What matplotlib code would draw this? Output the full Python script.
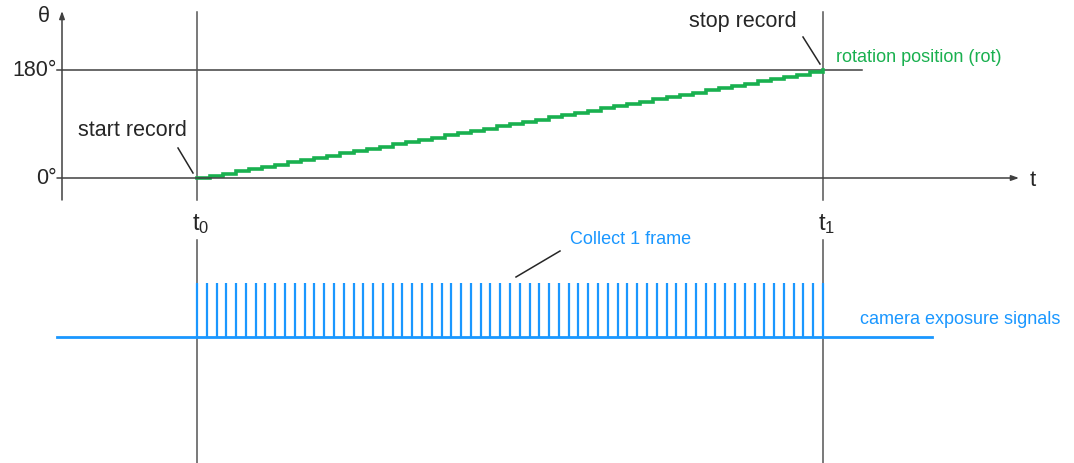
import matplotlib
matplotlib.use("Agg")
import matplotlib.pyplot as plt

plt.rcParams["font.family"] = ["Liberation Sans", "DejaVu Sans"]
plt.rcParams["mathtext.fontset"] = "custom"
plt.rcParams["mathtext.rm"] = "Liberation Sans"
plt.rcParams["mathtext.it"] = "Liberation Sans"

# ---- data -------------------------------------------------------------
# time in arbitrary units: recording runs from t0 = 0 to t1 = 192
t0, t1 = 0, 192
theta_min, theta_max = 0, 180

# stepwise stage rotation (time of each step, angle reached)
step_times = [0, 4, 8, 12, 16, 20, 24, 28, 32, 36, 40, 44, 48, 52, 56, 60,
              64, 68, 72, 76, 80, 84, 88, 92, 96, 100, 104, 108, 112, 116,
              120, 124, 128, 132, 136, 140, 144, 148, 152, 156, 160, 164,
              168, 172, 176, 180, 184, 188, 192]
step_angles = [0, 3.75, 7.5, 11.25, 15, 18.75, 22.5, 26.25, 30, 33.75, 37.5,
               41.25, 45, 48.75, 52.5, 56.25, 60, 63.75, 67.5, 71.25, 75,
               78.75, 82.5, 86.25, 90, 93.75, 97.5, 101.25, 105, 108.75,
               112.5, 116.25, 120, 123.75, 127.5, 131.25, 135, 138.75, 142.5,
               146.25, 150, 153.75, 157.5, 161.25, 165, 168.75, 172.5,
               176.25, 180]

# camera exposure pulses (one per collected frame)
frame_times = [0, 3, 6, 9, 12, 15, 18, 21, 24, 27, 30, 33, 36, 39, 42, 45,
               48, 51, 54, 57, 60, 63, 66, 69, 72, 75, 78, 81, 84, 87, 90, 93,
               96, 99, 102, 105, 108, 111, 114, 117, 120, 123, 126, 129, 132,
               135, 138, 141, 144, 147, 150, 153, 156, 159, 162, 165, 168,
               171, 174, 177, 180, 183, 186, 189, 192]
signal_low, signal_high = 0, 1

theta_ticks = [0, 180]
theta_tick_labels = ["0°", "180°"]
time_labels = [r"$\mathregular{t_0}$", r"$\mathregular{t_1}$"]

# ---- layout -----------------------------------------------------------
W, H = 1074, 463
fig = plt.figure(figsize=(W / 100, H / 100), dpi=100)
fig.patch.set_facecolor("white")

# horizontal scale: t0 -> x=197 px, t1 -> x=823 px
px_t0, px_t1 = 197, 823
sx = (px_t1 - px_t0) / (t1 - t0)
xlim = (t0 - px_t0 / sx, t0 + (W - px_t0) / sx)

# upper panel: 0 deg at y=178 px, 180 deg at y=70 px (from top)
py_0, py_180 = 178, 70
sy_top = (py_0 - py_180) / (theta_max - theta_min)
ylim_top = (theta_min - (H - py_0) / sy_top, theta_min + py_0 / sy_top)

# lower panel: low level at y=337 px, high level at y=283 px
py_low, py_high = 337, 283
sy_bot = (py_low - py_high) / (signal_high - signal_low)
ylim_bot = (signal_low - (H - py_low) / sy_bot, signal_low + py_low / sy_bot)

ax_top = fig.add_axes([0, 0, 1, 1])
ax_bot = fig.add_axes([0, 0, 1, 1])
for ax in (ax_top, ax_bot):
    ax.set_xlim(*xlim)
    ax.set_axis_off()
    ax.patch.set_alpha(0)
ax_top.set_ylim(*ylim_top)
ax_bot.set_ylim(*ylim_bot)


def top_xy(px, py):
    return t0 + (px - px_t0) / sx, theta_min + (py_0 - py) / sy_top


def bot_xy(px, py):
    return t0 + (px - px_t0) / sx, signal_low + (py_low - py) / sy_bot


axis_col = "#404040"
text_col = "#262626"
green = "#19b04f"
blue = "#1a97ff"
big = 15.5
small = 13

# axes of the angle plot
x0, y0 = top_xy(62, 200)
_, ytop = top_xy(62, 11)
ax_top.annotate("", xy=(x0, ytop), xytext=(x0, y0),
                arrowprops=dict(arrowstyle="-|>,head_length=0.45,head_width=0.16",
                                color=axis_col, lw=1.1, shrinkA=0, shrinkB=0))
xa, _ = top_xy(57, 0)
xb, _ = top_xy(1019, 0)
ax_top.annotate("", xy=(xb, theta_min), xytext=(xa, theta_min),
                arrowprops=dict(arrowstyle="-|>,head_length=0.45,head_width=0.16",
                                color=axis_col, lw=1.1, shrinkA=0, shrinkB=0))
xc, _ = top_xy(862, 0)
ax_top.plot([xa, xc], [theta_max, theta_max], color=axis_col, lw=1.1)

# time markers t0 / t1
_, v_top = top_xy(0, 12)
_, v_bot = top_xy(0, 200)
_, w_top = bot_xy(0, 240)
_, w_bot = bot_xy(0, H)
for t in (t0, t1):
    ax_top.plot([t, t], [v_bot, v_top], color="#555555", lw=1.1)
    ax_bot.plot([t, t], [w_bot, w_top], color="#555555", lw=1.1)

# rotation staircase
ax_top.plot(step_times, step_angles, drawstyle="steps-post",
            color=green, lw=2.6, solid_joinstyle="miter")

# camera exposure pulses
xl, _ = bot_xy(57, 0)
xr, _ = bot_xy(932, 0)
ax_bot.plot([xl, xr], [signal_low, signal_low], color=blue, lw=2.0)
ax_bot.vlines(frame_times, signal_low, signal_high, color=blue, lw=1.6)

# tick labels on the angle axis
for val, lab in zip(theta_ticks, theta_tick_labels):
    ax_top.text(top_xy(57, 0)[0], val, lab, ha="right", va="center",
                fontsize=big, color=text_col)
ax_top.text(*top_xy(44, 16), "θ", ha="center", va="center",
            fontsize=big, color=text_col)
ax_top.text(*top_xy(1033, 180), "t", ha="center", va="center",
            fontsize=16, color=text_col)

# time labels
for t, lab in zip((t0, t1), time_labels):
    ax_top.text(t + 4 / sx, top_xy(0, 224)[1], lab, ha="center",
                va="center", fontsize=17, color=text_col)

# annotations
ax_top.text(*top_xy(132, 131), "start record", ha="center", va="center",
            fontsize=big, color=text_col)
ax_top.plot(*zip(top_xy(178, 148), top_xy(193, 173)), color=text_col, lw=1.1)
ax_top.text(*top_xy(743, 22), "stop record", ha="center", va="center",
            fontsize=big, color=text_col)
ax_top.plot(*zip(top_xy(803, 37), top_xy(820, 64)), color=text_col, lw=1.1)
ax_top.text(*top_xy(836, 58), "rotation position (rot)", ha="left",
            va="center", fontsize=small, color=green)

ax_bot.text(*bot_xy(570, 240), "Collect 1 frame", ha="left", va="center",
            fontsize=small, color=blue)
ax_bot.plot(*zip(bot_xy(560, 251), bot_xy(516, 277)), color=text_col, lw=1.1)
ax_bot.text(*bot_xy(860, 320), "camera exposure signals", ha="left",
            va="center", fontsize=small, color=blue)

fig.savefig("out.png", dpi=100, facecolor="white")
